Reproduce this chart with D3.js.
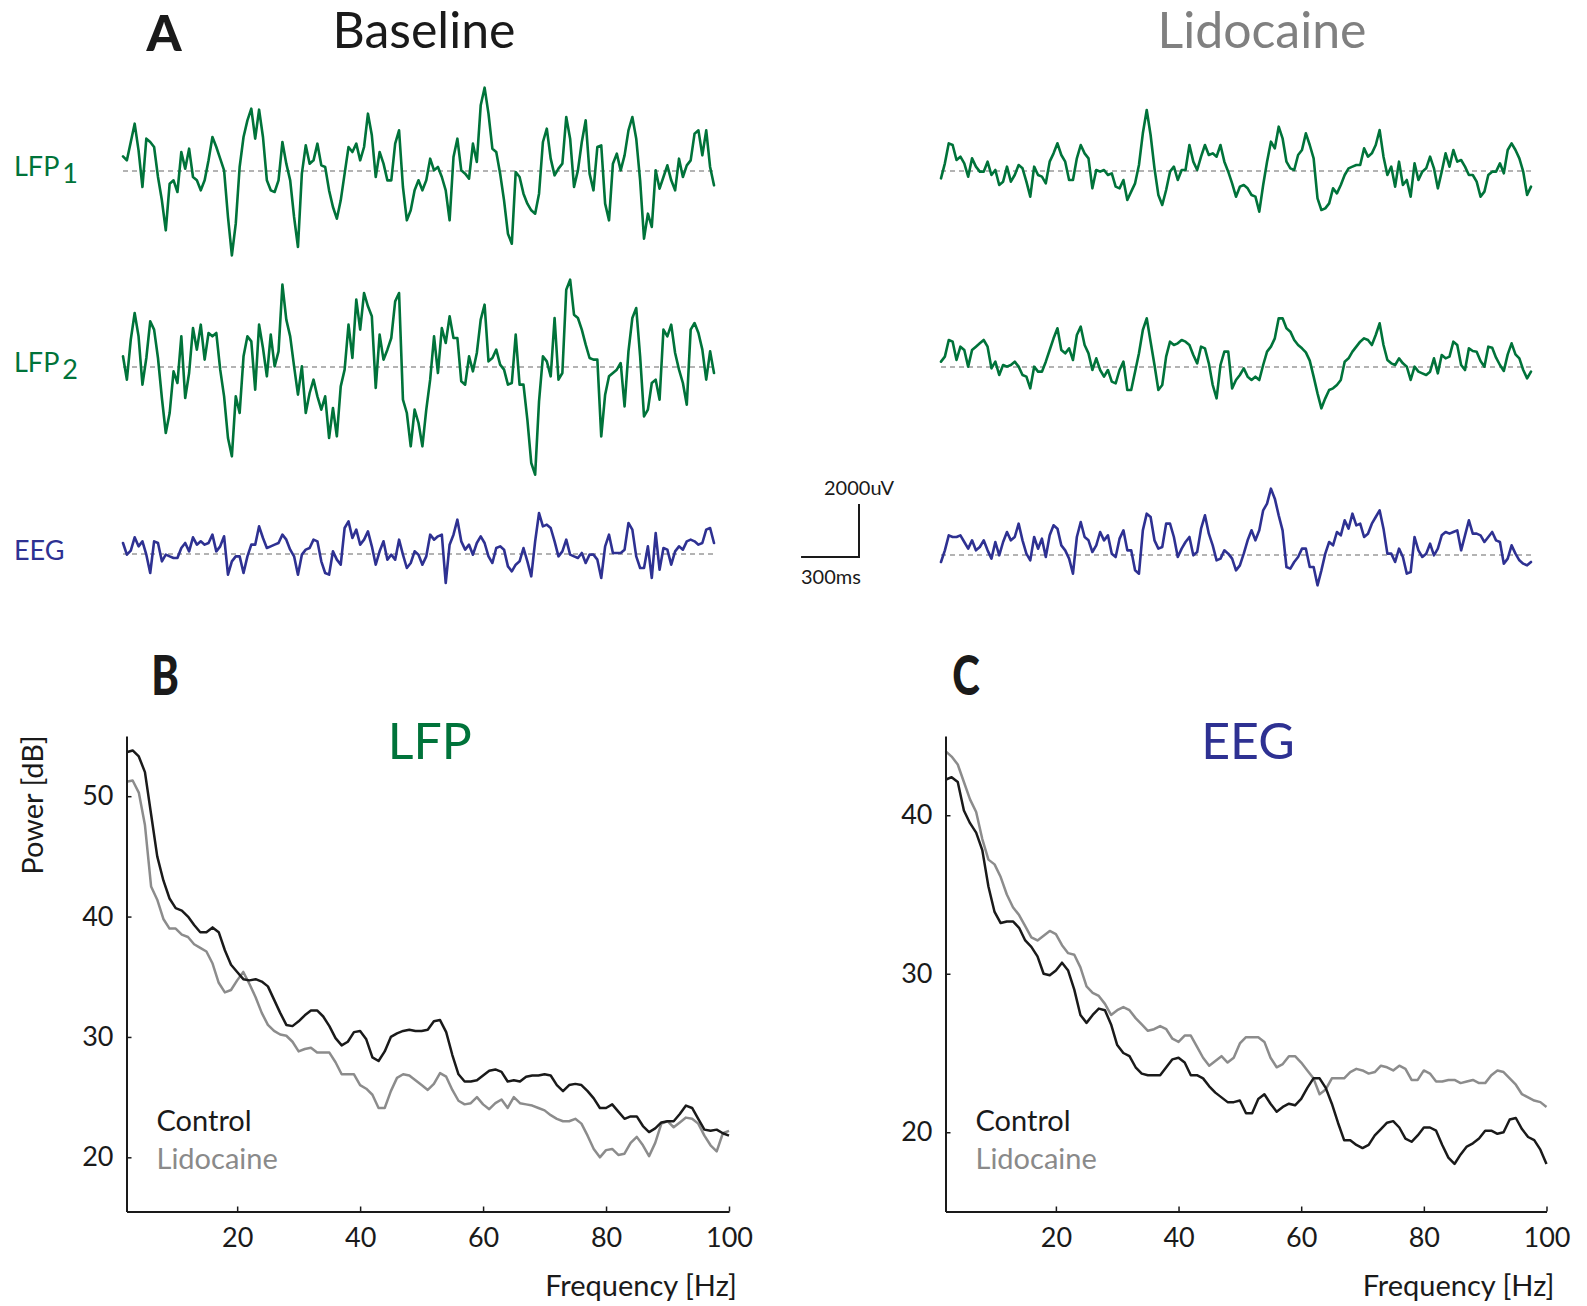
<!DOCTYPE html>
<html><head><meta charset="utf-8">
<script src="https://cdn.jsdelivr.net/npm/d3@7/dist/d3.min.js"></script>
<style>
body{margin:0;background:#fff}
text{font-family:Lato,"Noto Sans",sans-serif}
</style>
</head><body>
<svg id="c" width="1587" height="1306" xmlns="http://www.w3.org/2000/svg"></svg>
<script>
// ---------- Panel A: raw traces (digitized amplitude, 1 unit = 2000/159 µV, evenly sampled over the 3.06 s window) ----------
const baselineLFP1 = [44,32,87,142,62,-48,97,87,72,-18,-88,-178,-38,-28,-63,57,7,67,-18,-28,-58,-28,32,102,72,37,2,-138,-253,-158,12,102,152,187,97,184,102,-28,-58,-63,-28,87,22,-28,-138,-228,-8,77,22,32,82,17,12,-58,-108,-143,-88,-8,72,57,82,32,72,172,107,-18,57,22,-28,-28,82,122,-48,-148,-118,-58,-28,-58,-28,37,2,12,-18,-58,-148,42,97,2,-8,-23,82,27,197,250,172,67,57,-8,-88,-188,-218,-3,-18,-68,-98,-118,-128,-68,87,127,37,-13,7,22,162,97,-48,2,87,152,-8,-58,72,77,-98,-148,22,52,2,47,122,162,97,-28,-203,-128,-168,2,-53,-18,17,-28,-58,37,-18,17,32,112,122,47,122,12,-43];
const baselineLFP2 = [32,-38,82,162,92,-53,27,137,112,27,-93,-198,-138,-13,-48,92,-93,-18,117,52,127,22,102,92,102,-8,-88,-213,-268,-88,-138,32,92,77,-68,127,57,-28,97,2,47,247,142,92,2,-83,2,-138,-78,-38,-88,-128,-88,-213,-123,-208,-58,-8,127,27,202,112,222,182,152,-63,97,22,52,87,197,222,-98,-138,-238,-128,-168,-238,-128,-38,92,-18,117,72,152,87,87,-43,-53,32,-13,42,142,187,17,27,52,7,-8,-53,-48,97,-53,-53,-158,-288,-323,-103,32,17,-28,147,-38,-18,232,262,157,147,112,67,27,22,22,-208,-83,-28,-18,-8,12,-118,47,147,177,32,-148,-128,-48,-38,-98,112,92,127,42,-8,-48,-113,112,132,102,52,-38,47,-18];
const baselineEEG = [33,-2,10,50,23,38,-2,-57,38,33,-22,-2,-7,-12,-12,18,33,8,50,28,38,28,33,58,8,23,53,-62,-22,-7,-7,-57,-7,28,28,83,48,18,23,28,33,58,43,13,-7,-62,-2,13,18,43,38,-22,-57,-62,8,-17,-32,78,98,48,73,28,43,68,23,-32,8,38,-17,-2,-17,43,-2,-42,-27,8,-2,-32,-7,58,43,53,58,-87,28,58,103,38,13,28,-2,33,53,33,-7,-27,18,23,13,-37,-52,-32,-22,18,-22,-67,38,123,83,88,78,38,-7,8,43,-2,-7,-12,3,-27,-2,-2,-17,-72,23,58,3,3,3,13,93,73,-7,-42,-42,23,-72,63,-47,18,13,-32,8,23,13,38,43,38,28,33,73,78,33];
const lidoLFP1 = [-22,23,83,78,33,43,23,-17,38,13,-2,-2,28,-12,3,-42,-32,13,-32,-12,18,8,-32,-77,13,-12,-17,-37,28,53,83,48,28,-27,-27,38,78,53,38,-52,3,-2,3,-12,-7,-47,-52,-27,-87,-62,-37,18,113,183,108,8,-72,-102,-57,-2,13,-27,3,3,78,28,3,43,78,48,53,43,78,28,-2,-37,-77,-47,-42,-52,-72,-77,-122,-42,28,88,68,133,98,28,8,3,48,63,113,78,38,-82,-117,-112,-97,-52,-67,-42,-12,8,13,18,18,68,43,53,78,123,43,-12,13,-47,28,-42,-27,-77,23,-27,-2,8,43,8,-52,-2,53,13,63,28,33,13,-12,-12,-32,-77,-62,-12,-2,-2,23,-7,63,83,63,38,-2,-72,-47];
const lidoLFP2 = [16,31,81,76,21,61,51,1,51,61,71,81,61,-4,16,-24,6,1,6,16,1,-24,-29,-64,1,-14,-14,16,51,86,116,51,41,56,21,96,121,66,41,-9,26,-9,-29,-9,-44,-49,-9,16,-69,-69,-14,41,111,146,76,6,-69,-54,31,76,66,71,81,76,66,36,11,61,56,11,-54,-94,6,46,46,-64,-39,-24,-4,-29,-39,-29,-39,6,46,61,86,146,146,116,106,81,66,56,44,19,-29,-79,-124,-94,-69,-64,-54,-39,16,26,46,61,76,86,81,66,96,131,66,21,11,6,26,11,1,-39,1,-14,-19,-24,-14,26,-19,36,26,31,76,66,6,-9,56,48,46,18,1,61,58,28,6,-12,38,71,38,26,-9,-34,-14];
const lidoEEG = [-21,14,59,54,54,59,39,19,44,14,24,44,14,-11,39,-1,39,69,44,54,94,44,4,-16,54,19,49,-6,59,89,79,29,14,-11,-56,54,99,54,44,9,29,69,44,59,4,-6,49,74,14,14,-46,-56,74,124,114,44,19,24,94,94,54,-6,19,39,54,-1,9,79,119,64,29,-16,-11,14,4,-11,-46,-31,4,44,74,44,74,134,154,199,169,119,74,-36,-41,-21,-6,19,19,-36,-36,-91,-46,4,39,29,69,59,104,79,124,89,94,54,64,94,114,134,79,4,4,-21,19,-6,-56,-51,54,14,-6,4,34,-1,19,59,69,64,69,74,14,59,104,64,64,59,39,54,69,44,39,-26,-11,29,4,-16,-26,-31,-21];

// ---------- Panels B / C: power spectra (dB), one value per Hz from 2 to 100 Hz ----------
const lfpControl = [53.65,53.8,53.3,52.0,48.5,45.0,43.0,41.5,40.7,40.5,40.0,39.3,38.7,38.7,39.1,38.7,37.2,36.0,35.4,34.8,34.7,34.8,34.6,34.2,33.1,32.0,31.0,30.9,31.3,31.8,32.2,32.2,31.7,30.9,29.9,29.3,29.6,30.4,30.5,29.8,28.3,28.0,28.8,30.0,30.3,30.5,30.6,30.5,30.5,30.6,31.3,31.4,30.4,28.5,26.9,26.3,26.3,26.4,26.8,27.2,27.3,27.1,26.3,26.4,26.3,26.7,26.8,26.8,26.9,26.8,26.0,25.5,26.0,26.1,26.0,25.5,24.9,24.1,24.1,24.4,23.8,23.2,23.4,23.4,22.6,22.1,22.4,22.9,23.0,23.0,23.6,24.3,24.1,23.2,22.3,22.2,22.3,22.0,21.8];
const lfpLidocaine = [51.2,51.3,50.3,47.6,42.5,41.4,39.8,39.0,39.0,38.5,38.3,37.7,37.4,37.1,36.1,34.5,33.7,33.9,34.7,35.4,34.4,33.3,32.0,31.0,30.5,30.2,30.1,29.6,28.8,29.0,29.1,28.7,28.7,28.7,27.9,26.9,26.9,26.9,26.0,25.7,25.2,24.1,24.1,25.5,26.6,26.9,26.8,26.4,26.0,25.6,26.1,27.0,26.7,25.6,24.7,24.4,24.5,25.0,24.4,24.0,24.5,24.8,24.1,25.0,24.5,24.4,24.3,24.1,23.9,23.5,23.2,23.0,23.0,23.2,22.8,21.8,20.7,20.0,20.6,20.7,20.2,20.3,21.2,21.7,21.0,20.1,21.2,22.8,23.0,22.5,22.9,23.3,23.2,22.8,21.8,21.0,20.5,22.0,22.2];
const eegControl = [42.24,42.4,42.1,40.3,39.5,38.9,37.8,35.5,33.9,33.2,33.3,33.3,32.9,32.1,31.7,31.1,30.0,29.9,30.2,30.7,30.2,29.0,27.4,26.9,27.4,27.8,27.7,26.8,25.5,25.0,24.8,24.1,23.7,23.6,23.6,23.6,24.1,24.6,24.7,24.4,23.6,23.6,23.4,22.9,22.5,22.2,21.9,21.9,22.0,21.2,21.2,22.1,22.4,21.8,21.3,21.6,21.8,21.7,22.1,22.8,23.4,23.4,22.8,21.8,20.6,19.5,19.5,19.2,19.0,19.2,19.8,20.2,20.6,20.7,20.3,19.6,19.4,19.8,20.3,20.3,20.1,19.2,18.4,18.0,18.6,19.1,19.3,19.6,20.1,20.1,19.9,20.0,20.8,20.9,20.2,19.7,19.5,18.9,18.0];
const eegLidocaine = [44.05,43.7,43.2,42.1,41.0,40.2,38.5,37.2,36.9,36.1,35.0,34.2,33.7,33.0,32.3,32.1,32.4,32.7,32.5,31.8,31.3,31.2,30.4,29.2,28.8,28.6,28.1,27.4,27.7,27.9,27.7,27.2,26.8,26.4,26.5,26.7,26.5,25.9,25.7,26.1,26.1,25.4,24.7,24.2,24.5,24.8,24.4,24.7,25.6,26.0,26.0,26.0,25.7,24.7,24.1,24.3,24.8,24.8,24.4,23.9,23.4,22.4,22.7,23.4,23.4,23.4,23.8,24.0,23.9,23.7,23.8,24.2,24.1,23.9,24.2,24.0,23.3,23.3,23.9,23.7,23.2,23.2,23.3,23.3,23.1,23.2,23.3,23.1,23.1,23.6,23.9,23.8,23.4,23.0,22.4,22.2,22.0,21.9,21.6];

const xTicks = [20,40,60,80,100];
const yTicksLFP = [20,30,40,50];
const yTicksEEG = [20,30,40];
const freqStart = 2, freqEnd = 100;

// ---------- styling ----------
const GREEN = "#00733a", NAVY = "#2e3192", INK = "#1a1a1a";
const FONT = "Lato, 'Noto Sans', sans-serif";
const svg = d3.select("#c");
svg.append("rect").attr("width",1587).attr("height",1306).attr("fill","#fff");

// ---------- Panel A ----------
const UV_PER_UNIT = 2000/159;
const traceDur = 3060; // ms
const amp = d3.scaleLinear().domain([0,2000]).range([0,53]);
const tBase = d3.scaleLinear().domain([0,traceDur]).range([123,714]);
const tLido = d3.scaleLinear().domain([0,traceDur]).range([941,1531]);

const traces = [
  {vals: baselineLFP1, x: tBase, y0: 171, color: GREEN},
  {vals: baselineLFP2, x: tBase, y0: 367, color: GREEN},
  {vals: baselineEEG,  x: tBase, y0: 554, color: NAVY},
  {vals: lidoLFP1,     x: tLido, y0: 171, color: GREEN},
  {vals: lidoLFP2,     x: tLido, y0: 367, color: GREEN},
  {vals: lidoEEG,      x: tLido, y0: 555, color: NAVY}
];
traces.forEach(tr => {
  const dt = traceDur/(tr.vals.length-1);
  svg.append("line")
    .attr("x1", tr.x(0)).attr("x2", tr.x(traceDur))
    .attr("y1", tr.y0).attr("y2", tr.y0)
    .attr("stroke","#9a9a9a").attr("stroke-width",1.3).attr("stroke-dasharray","5,4");
  const line = d3.line().x((d,i)=>tr.x(i*dt)).y(d=>tr.y0 - amp(d*UV_PER_UNIT));
  svg.append("path").datum(tr.vals).attr("d", line)
    .attr("fill","none").attr("stroke", tr.color).attr("stroke-width",2.6)
    .attr("stroke-linejoin","round").attr("stroke-linecap","round");
});

// scale bar
const sbX = 859, sbY = 557;
const sbW = tBase(300)-tBase(0), sbH = amp(2000);
svg.append("path")
  .attr("d", `M${sbX-sbW},${sbY}H${sbX}V${sbY-sbH}`)
  .attr("fill","none").attr("stroke",INK).attr("stroke-width",2);
svg.append("text").attr("x",824).attr("y",495).attr("font-size",20).attr("fill",INK).text("2000uV");
svg.append("text").attr("x",801).attr("y",584).attr("font-size",20).attr("fill",INK).text("300ms");

// trace labels
const lab1 = svg.append("text").attr("x",14).attr("y",176).attr("font-size",27).attr("fill",GREEN);
lab1.append("tspan").text("LFP");
lab1.append("tspan").attr("dx",3).attr("dy",7).text("1");
const lab2 = svg.append("text").attr("x",14).attr("y",372).attr("font-size",27).attr("fill",GREEN);
lab2.append("tspan").text("LFP");
lab2.append("tspan").attr("dx",3).attr("dy",7).text("2");
svg.append("text").attr("x",14).attr("y",560).attr("font-size",27).attr("fill",NAVY).text("EEG");

// titles
svg.append("text").attr("x",164).attr("y",51).attr("font-size",50).attr("font-weight",900)
  .attr("text-anchor","middle").attr("fill",INK).text("A");
svg.append("text").attr("x",424).attr("y",48).attr("font-size",50)
  .attr("text-anchor","middle").attr("fill",INK).text("Baseline");
svg.append("text").attr("x",1262).attr("y",48).attr("font-size",50)
  .attr("text-anchor","middle").attr("fill","#808080").text("Lidocaine");

// ---------- Panels B / C ----------
function spectrum(opts){
  const x = d3.scaleLinear().domain([freqStart,freqEnd]).range([opts.x0, opts.x1]);
  const y = d3.scaleLinear().domain(opts.yDomain).range([1211.5, 736]);
  const g = svg.append("g");
  const freqs = d3.range(freqStart, freqEnd+1);
  const line = d3.line().x((d,i)=>x(freqs[i])).y(d=>y(d));
  g.append("path").datum(opts.lido).attr("d",line).attr("fill","none")
    .attr("stroke","#8c8c8c").attr("stroke-width",2.5).attr("stroke-linejoin","round");
  g.append("path").datum(opts.control).attr("d",line).attr("fill","none")
    .attr("stroke",INK).attr("stroke-width",2.5).attr("stroke-linejoin","round");

  const ax = g.append("g").attr("transform",`translate(0,1211.5)`)
    .call(d3.axisBottom(x).tickValues(xTicks).tickSize(-5).tickSizeOuter(0).tickPadding(16));
  const ay = g.append("g").attr("transform",`translate(${opts.x0},0)`)
    .call(d3.axisLeft(y).tickValues(opts.yTicks).tickSize(-5).tickSizeOuter(0).tickPadding(13));
  [ax, ay].forEach(a => {
    a.attr("font-family", FONT).attr("font-size", 27);
    a.select(".domain").attr("stroke",INK).attr("stroke-width",2);
    a.selectAll(".tick line").attr("stroke",INK).attr("stroke-width",1.5);
    a.selectAll(".tick text").attr("fill",INK);
  });

  g.append("text").attr("x",opts.x1+8).attr("y",1296).attr("font-size",29)
    .attr("text-anchor","end").attr("fill",INK).text("Frequency [Hz]");
  g.append("text").attr("x",(opts.x0+opts.x1)/2+2).attr("y",759).attr("font-size",50)
    .attr("text-anchor","middle").attr("fill",opts.titleColor).text(opts.title);
  g.append("text").attr("transform",`translate(${opts.letterX},695) scale(0.76,1)`)
    .attr("font-size",55).attr("font-weight",900).attr("text-anchor","middle")
    .attr("fill",INK).text(opts.letter);
  g.append("text").attr("x",opts.x0+30).attr("y",1131).attr("font-size",29).attr("fill",INK).text("Control");
  g.append("text").attr("x",opts.x0+30).attr("y",1169).attr("font-size",29).attr("fill","#8a8a8a").text("Lidocaine");
}

spectrum({x0:126.5, x1:729, yDomain:[15.5,55], yTicks:yTicksLFP, control:lfpControl, lido:lfpLidocaine,
  title:"LFP", titleColor:GREEN, letter:"B", letterX:165});
spectrum({x0:945.5, x1:1546.5, yDomain:[15,45], yTicks:yTicksEEG, control:eegControl, lido:eegLidocaine,
  title:"EEG", titleColor:NAVY, letter:"C", letterX:966});

svg.append("text").attr("transform","translate(43,805) rotate(-90)").attr("font-size",29)
  .attr("text-anchor","middle").attr("fill",INK).text("Power [dB]");
</script>
</body></html>
